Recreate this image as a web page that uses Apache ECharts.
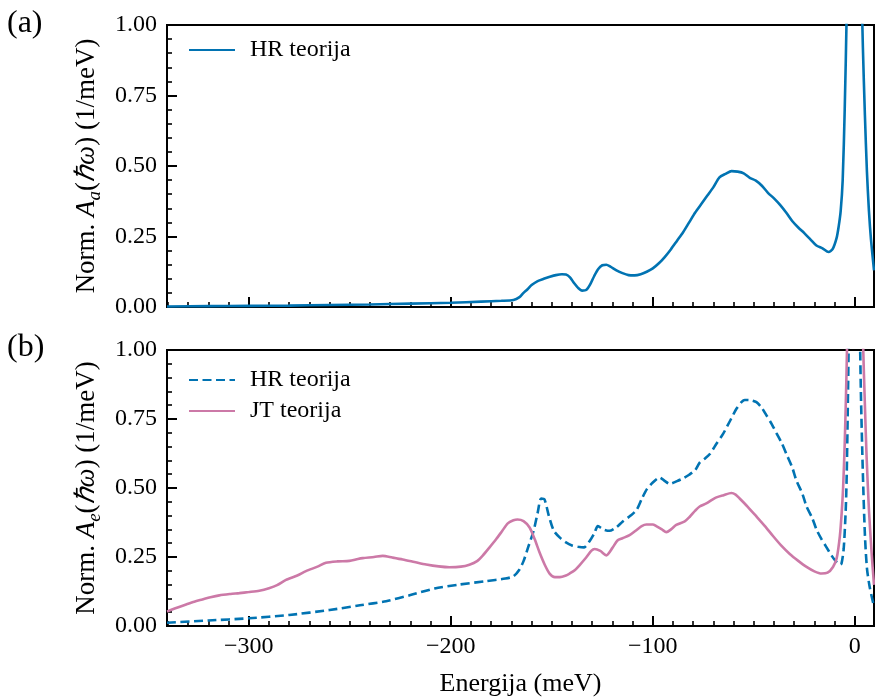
<!DOCTYPE html>
<html>
<head>
<meta charset="utf-8">
<script src="https://cdn.jsdelivr.net/npm/echarts@6/dist/echarts.min.js"></script>
<style>
  html, body { margin: 0; padding: 0; background: #fff; }
  #chart { width: 875px; height: 698px; }
</style>
</head>
<body>
<div id="chart"></div>
<script>
// Energy axis (meV) and spectral functions for both panels
const energyA = [-340.5, -320, -300, -280, -260, -240, -220, -200, -185, -175, -169, -166, -164, -162, -160, -157, -154, -151, -148, -145, -143, -141, -139, -137, -135, -133, -131, -129, -127, -125, -123, -121, -118, -115, -112, -109, -106, -103, -100, -97, -94, -91, -88, -85, -82, -79, -76, -73, -70, -67, -64, -61, -58, -55, -52, -49, -46, -43, -40, -37, -34, -31, -28, -25, -22, -19, -16, -13, -11, -9, -8, -7, -6, -5, -4, -3, -2, -1, 0, 1, 2, 3, 4, 5, 6, 7, 8, 9.5];
const hrA = [0.002, 0.003, 0.004, 0.005, 0.007, 0.009, 0.012, 0.015, 0.019, 0.022, 0.025, 0.035, 0.050, 0.063, 0.078, 0.092, 0.100, 0.107, 0.113, 0.116, 0.115, 0.105, 0.085, 0.068, 0.058, 0.060, 0.080, 0.110, 0.135, 0.148, 0.150, 0.143, 0.130, 0.120, 0.113, 0.112, 0.116, 0.125, 0.137, 0.155, 0.178, 0.205, 0.235, 0.265, 0.300, 0.335, 0.365, 0.395, 0.425, 0.460, 0.472, 0.482, 0.480, 0.474, 0.458, 0.448, 0.430, 0.405, 0.385, 0.362, 0.335, 0.305, 0.282, 0.262, 0.240, 0.218, 0.208, 0.195, 0.205, 0.245, 0.285, 0.340, 0.45, 0.70, 1.05, 1.6, 2.5, 3.4, 3.6, 2.9, 1.9, 1.25, 0.92, 0.68, 0.48, 0.34, 0.24, 0.13];

const energyHrB = [-340.5, -320, -300, -280, -260, -245, -232, -220, -208, -196, -183, -173, -169, -166, -164, -161.5, -159, -157, -155.3, -153.6, -151.5, -149, -146, -143, -140, -137, -134, -131.5, -129, -127.2, -124.5, -121.5, -118, -115, -111, -108, -105.5, -103, -100, -96.6, -94, -91.7, -88, -85, -82, -79, -76.8, -74, -71.9, -68.5, -65.3, -62, -58.6, -56, -54.5, -51.5, -48.7, -46, -43.8, -41, -38.8, -36, -33.8, -31, -28.9, -26, -23.9, -21, -19, -16.5, -14, -11.5, -9.1, -7.5, -6.6, -5.5, -4.5, -4, -3.5, -3, -2, -1, 0, 1, 2, 3, 4, 5, 6, 7.4, 9.5];
const hrB = [0.012, 0.020, 0.028, 0.040, 0.058, 0.075, 0.090, 0.112, 0.136, 0.150, 0.162, 0.172, 0.180, 0.205, 0.235, 0.29, 0.345, 0.41, 0.462, 0.458, 0.40, 0.345, 0.320, 0.303, 0.292, 0.287, 0.285, 0.305, 0.335, 0.362, 0.350, 0.345, 0.358, 0.378, 0.400, 0.421, 0.46, 0.495, 0.520, 0.538, 0.525, 0.515, 0.525, 0.535, 0.548, 0.565, 0.592, 0.608, 0.622, 0.66, 0.695, 0.74, 0.787, 0.812, 0.819, 0.818, 0.811, 0.79, 0.764, 0.73, 0.699, 0.66, 0.622, 0.575, 0.527, 0.48, 0.433, 0.39, 0.35, 0.315, 0.285, 0.255, 0.232, 0.222, 0.226, 0.28, 0.42, 0.55, 0.78, 1.05, 1.9, 3.0, 3.2, 2.4, 1.35, 0.85, 0.55, 0.33, 0.21, 0.14, 0.07];

const energyJtB = [-340.5, -336, -331, -327, -323, -319, -314.6, -309, -304.7, -300, -294.8, -290, -286, -281.6, -276, -271.7, -266, -261.8, -256, -250.2, -246, -243.6, -238, -233.7, -229, -223.8, -218, -212.2, -206, -200.7, -195, -190.8, -187, -184.2, -181, -177.5, -174.5, -171.8, -169, -167, -164, -161, -158.5, -156.1, -153.5, -151.1, -148.5, -146, -143, -141.2, -138.5, -136.3, -133, -130.5, -128.8, -126, -123, -120, -117.5, -115, -111.5, -108, -105.5, -103.2, -100, -98.3, -95.5, -93.3, -91, -88.4, -84.2, -81.8, -79, -76.8, -73.5, -70.5, -68.5, -65, -61.1, -59, -57, -53, -48.7, -44.5, -40.5, -36.5, -32.2, -28, -23.9, -20, -16.5, -13.5, -10.8, -9, -7.4, -6.5, -5.8, -5, -4.1, -3, -2, -1, 0, 1, 2, 3, 4.1, 5, 5.8, 7, 8.3, 9.5];
const jtB = [0.052, 0.065, 0.078, 0.088, 0.096, 0.104, 0.111, 0.116, 0.119, 0.123, 0.128, 0.137, 0.148, 0.167, 0.183, 0.199, 0.215, 0.229, 0.234, 0.236, 0.243, 0.246, 0.250, 0.254, 0.248, 0.241, 0.232, 0.223, 0.216, 0.213, 0.215, 0.222, 0.235, 0.255, 0.283, 0.315, 0.345, 0.372, 0.383, 0.386, 0.380, 0.357, 0.315, 0.267, 0.222, 0.190, 0.177, 0.177, 0.183, 0.190, 0.203, 0.220, 0.248, 0.272, 0.279, 0.272, 0.256, 0.283, 0.31, 0.318, 0.329, 0.348, 0.362, 0.368, 0.368, 0.362, 0.350, 0.340, 0.350, 0.366, 0.379, 0.395, 0.418, 0.433, 0.444, 0.458, 0.466, 0.474, 0.482, 0.476, 0.462, 0.432, 0.397, 0.362, 0.326, 0.292, 0.261, 0.236, 0.214, 0.198, 0.190, 0.193, 0.214, 0.245, 0.326, 0.41, 0.50, 0.66, 0.918, 1.35, 2.0, 2.6, 2.8, 2.6, 2.0, 1.45, 1.02, 0.8, 0.62, 0.42, 0.267, 0.149];

// Axis ticks and labels
const xMajorTicks = [-300, -200, -100, 0];
const legendLabels = { hrA: 'HR teorija', hrB: 'HR teorija', jtB: 'JT teorija' };

const BLUE = '#0173B2';
const PINK = '#CC79A7';
const FONT = 'Liberation Serif';
const TICK_FS = 24;
const NAME_FS = 26;
const YNAME_FS = 27;

const xMinorTicks = [];
for (let e = -340; e <= 9.5; e += 10) {
  if (e % 100 !== 0) xMinorTicks.push(e);
}

const pairs = (xs, ys) => xs.map((x, i) => [x, ys[i]]);

const grids = [
  { left: 167, right: 1, top: 25, height: 282 },
  { left: 167, right: 1, top: 350, height: 282 }
];

function yName(sub) {
  return '{n|Norm. }{i|A}{s|' + sub + '}{n|(}{i|ℏω}{n|) (1/meV)}';
}
const nameRich = {
  n: { fontFamily: FONT, fontSize: YNAME_FS, color: '#000', lineHeight: 35 },
  i: { fontFamily: FONT, fontSize: YNAME_FS, fontStyle: 'italic', color: '#000', lineHeight: 35 },
  s: { fontFamily: FONT, fontSize: 19, fontStyle: 'italic', color: '#000', lineHeight: 19, verticalAlign: 'bottom' }
};

function xMain(gridIndex, showLabels) {
  return {
    type: 'value', gridIndex, min: -340.5, max: 9.5, position: 'bottom',
    splitLine: { show: false },
    axisLine: { show: true, onZero: false, lineStyle: { color: '#000', width: 2 } },
    axisTick: { show: true, inside: true, length: 10, customValues: xMajorTicks, lineStyle: { color: '#000', width: 2 } },
    axisLabel: {
      show: showLabels, customValues: xMajorTicks, margin: 9, color: '#000',
      fontFamily: FONT, fontSize: TICK_FS,
      formatter: v => (v < 0 ? '\u2212' + Math.abs(v) : String(v))
    },
    name: showLabels ? 'Energija (meV)' : '',
    nameLocation: 'middle', nameGap: 45,
    nameTextStyle: { fontFamily: FONT, fontSize: NAME_FS, color: '#000' }
  };
}
function xMinor(gridIndex) {
  return {
    type: 'value', gridIndex, min: -340.5, max: 9.5, position: 'bottom', offset: 0,
    splitLine: { show: false },
    axisLine: { show: false, onZero: false },
    axisTick: { show: true, inside: true, length: 5, customValues: xMinorTicks, lineStyle: { color: '#000', width: 1.6 } },
    axisLabel: { show: false }
  };
}
function yAxis(gridIndex, sub) {
  return {
    type: 'value', gridIndex, min: 0, max: 1, interval: 0.25,
    splitLine: { show: false },
    axisLine: { show: true, onZero: false, lineStyle: { color: '#000', width: 2 } },
    axisTick: { show: true, inside: true, length: 10, lineStyle: { color: '#000', width: 2 } },
    minorTick: { show: true, splitNumber: 5, length: 5, lineStyle: { color: '#000', width: 1.6 } },
    axisLabel: { margin: 10, color: '#000', fontFamily: FONT, fontSize: TICK_FS, formatter: v => v.toFixed(2) },
    name: yName(sub), nameLocation: 'middle', nameGap: 54,
    nameTextStyle: { rich: nameRich }
  };
}

const lineSeries = (name, xi, yi, data, color, type) => ({
  name, type: 'line', xAxisIndex: xi, yAxisIndex: yi, data,
  showSymbol: false, symbol: 'none', smooth: 0.25, clip: true,
  lineStyle: { color, width: 2.6, type },
  itemStyle: { color },
  z: 3
});

// Legend entries show only the line sample, no marker
const legendBase = {
  itemWidth: 46, itemHeight: 22,
  itemStyle: { color: 'transparent', borderColor: 'transparent', borderWidth: 0, opacity: 0 },
  formatter: n => legendLabels[n],
  textStyle: { fontFamily: FONT, fontSize: 24, color: '#000', padding: [0, 0, 0, 10] }
};

const option = {
  animation: false,
  backgroundColor: '#fff',
  grid: grids.map(g => Object.assign({ show: true, borderColor: '#000', borderWidth: 2, backgroundColor: 'transparent' }, g)),
  xAxis: [xMain(0, false), xMinor(0), xMain(1, true), xMinor(1)],
  yAxis: [yAxis(0, 'a'), yAxis(1, 'e')],
  legend: [
    Object.assign({ data: ['hrA'], left: 183, top: 33, itemGap: 8 }, legendBase),
    Object.assign({ data: ['hrB', 'jtB'], orient: 'vertical', left: 183, top: 363, itemGap: 7 }, legendBase)
  ],
  graphic: [
    { type: 'text', left: 7, top: 8, style: { text: '(a)', font: '32px "Liberation Serif"', fill: '#000' } },
    { type: 'text', left: 7, top: 332, style: { text: '(b)', font: '32px "Liberation Serif"', fill: '#000' } }
  ],
  series: [
    lineSeries('hrA', 0, 0, pairs(energyA, hrA), BLUE, 'solid'),
    lineSeries('hrB', 2, 1, pairs(energyHrB, hrB), BLUE, [9, 4.5]),
    lineSeries('jtB', 2, 1, pairs(energyJtB, jtB), PINK, 'solid')
  ]
};

const chart = echarts.init(document.getElementById('chart'), null, { renderer: 'canvas' });
chart.setOption(option);
</script>
</body>
</html>
